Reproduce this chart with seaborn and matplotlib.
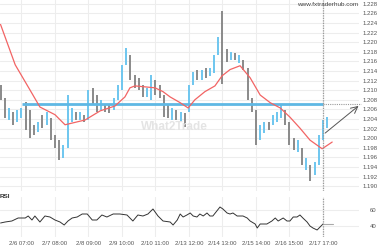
import numpy as np
import pandas as pd
import matplotlib
matplotlib.use("Agg")
import matplotlib.pyplot as plt
import seaborn as sns

# ---------------- data ----------------
bar_high = [1.2111, 1.2084, 1.2063, 1.2055, 1.2059, 1.2063, 1.2076, 1.2059, 1.2028, 1.2034,
            1.2049, 1.2055, 1.2042, 1.2007, 1.1996, 1.1986, 1.2090, 1.2063, 1.2055, 1.2055,
            1.2049, 1.2101, 1.2105, 1.2090, 1.2080, 1.2070, 1.2070, 1.2084, 1.2111, 1.2153,
            1.2189, 1.2174, 1.2132, 1.2126, 1.2111, 1.2105, 1.2132, 1.2122, 1.2111, 1.2090,
            1.2070, 1.2063, 1.2059, 1.2055, 1.2053, 1.2111, 1.2139, 1.2143, 1.2143, 1.2147,
            1.2147, 1.2174, 1.2210, 1.2266, 1.2185, 1.2180, 1.2178, 1.2174, 1.2162, 1.2147,
            1.2084, 1.2059, 1.2028, 1.2034, 1.2034, 1.2049, 1.2055, 1.2070, 1.2059, 1.2034,
            1.2001, 1.1996, 1.1980, 1.1959, 1.1944, 1.1950, 1.2007, 1.2038, 1.2044]
bar_low = [1.2080, 1.2042, 1.2038, 1.2028, 1.2034, 1.2042, 1.2017, 1.2001, 1.2007, 1.2013,
           1.2021, 1.2028, 1.1996, 1.1980, 1.1955, 1.1959, 1.1980, 1.2034, 1.2038, 1.2038,
           1.2034, 1.2038, 1.2070, 1.2055, 1.2059, 1.2055, 1.2053, 1.2059, 1.2080, 1.2101,
           1.2153, 1.2122, 1.2105, 1.2101, 1.2086, 1.2086, 1.2080, 1.2090, 1.2084, 1.2044,
           1.2042, 1.2038, 1.2038, 1.2034, 1.2024, 1.2055, 1.2111, 1.2122, 1.2122, 1.2126,
           1.2130, 1.2136, 1.2174, 1.2113, 1.2159, 1.2164, 1.2164, 1.2157, 1.2143, 1.2080,
           1.2055, 1.1986, 1.1996, 1.2011, 1.2017, 1.2028, 1.2034, 1.2042, 1.2028, 1.1986,
           1.1975, 1.1971, 1.1944, 1.1934, 1.1911, 1.1923, 1.1944, 1.1996, 1.2021]
bar_up = [0, 0, 1, 0, 1, 1, 0, 0, 0, 1,
          0, 1, 0, 0, 0, 1, 1, 1, 0, 1,
          0, 1, 0, 0, 1, 0, 0, 1, 1, 1,
          1, 0, 0, 0, 0, 1, 1, 0, 0, 0,
          0, 1, 0, 1, 0, 1, 1, 0, 1, 0,
          1, 1, 1, 0, 0, 1, 0, 1, 0, 0,
          0, 0, 1, 1, 0, 1, 1, 1, 0, 0,
          0, 1, 0, 1, 0, 1, 1, 1, 1]

ma_pos = [0, 3.5, 7, 9.4, 13, 15.4, 20.2, 23.8, 27.3, 29.7, 30.9, 32.1, 34.5, 36.9, 38.8,
          40.5, 42.9, 44.8, 46.4, 48.8, 51.2, 52.9, 54.8, 57.2, 59.6, 62, 64.4, 66.8, 69.1,
          71.5, 73.9, 76.8, 79.2]
ma_val = [1.2237, 1.2153, 1.2101, 1.2065, 1.2049, 1.2028, 1.2038, 1.2057, 1.2067, 1.2086,
          1.2105, 1.2109, 1.2107, 1.2105, 1.2097, 1.2086, 1.2074, 1.2063, 1.2080, 1.2097,
          1.2109, 1.2130, 1.2143, 1.2151, 1.2126, 1.2090, 1.2074, 1.2063, 1.2044, 1.2021,
          1.1996, 1.1978, 1.1992]

rsi_pos = [0, 1.1, 2.7, 4.2, 5.9, 6.6, 7.5, 8.2, 9.4, 10.6, 11.8, 13, 14.2, 15.2, 16.1,
           17.1, 18.3, 19.5, 20.7, 21.9, 23, 24.2, 25.4, 26.9, 28.5, 30.2, 31.6, 32.8, 34,
           35.2, 36.4, 37.6, 38.8, 40.5, 41.2, 42.2, 42.9, 43.6, 44.5, 45.3, 46, 46.9, 47.6,
           48.4, 49.3, 50, 50.7, 52.4, 53.1, 54.1, 54.8, 55.5, 56.5, 57.9, 58.9, 59.6, 60.8,
           61.3, 62, 63.6, 64.8, 65.6, 66.3, 67.5, 68.4, 69.1, 69.9, 70.8, 71.5, 72.2, 73.2,
           73.9, 74.6, 75.6, 76.3, 77]
rsi_val = [43.75, 45, 46.25, 50, 50, 52.5, 47.5, 52.5, 45, 52.5, 51.25, 47.5, 45, 41.25, 46.25,
           50, 51.25, 55, 55, 47.5, 47.5, 53.75, 51.25, 55, 55, 53.75, 46.25, 53.75, 52.5,
           55, 61.25, 52.5, 46.25, 45, 41.25, 47.5, 55, 51.25, 53.75, 56.25, 52.5, 51.25, 55,
           52.5, 56.25, 52.5, 52.5, 63.75, 61.25, 56.25, 55, 56.25, 52.5, 52.5, 50, 46.25, 42.5,
           37.5, 42.5, 42.5, 46.25, 50, 46.25, 50, 46.25, 46.25, 51.25, 51.25, 53.75, 50, 45,
           40, 37.5, 35, 38.75, 42.5]

level = 1.2072
level_start = 5.1
now_pos = 77
arrow_from = (77, 1.2007)
arrow_to = (86.0, 1.2071)

tick_pos = [5, 13, 21, 29, 37, 45, 53, 61, 69, 77]
tick_labels = ["2/6 07:00", "2/7 08:00", "2/8 09:00", "2/9 10:00", "2/10 11:00",
               "2/13 12:00", "2/14 13:00", "2/15 14:00", "2/16 15:00", "2/17 17:00"]
price_ticks = [1.190, 1.192, 1.194, 1.196, 1.198, 1.200, 1.202, 1.204, 1.206, 1.208,
               1.210, 1.212, 1.214, 1.216, 1.218, 1.220, 1.222, 1.224, 1.226, 1.228]
rsi_ticks = [40, 60]

# ---------------- plot ----------------
sns.set_theme(style="white")
plt.rcParams['font.family'] = ['Liberation Sans', 'DejaVu Sans']

BLUE = "#6ec6ef"
GREY = "#8a8a8a"
RED = "#f26464"
GRID = "#ededed"
TXT = "#555555"

W = 359 / 380
fig = plt.figure(figsize=(3.8, 2.5), dpi=100)
ax = fig.add_axes([0, 1 - 191 / 250, W, 191 / 250])
ax2 = fig.add_axes([0, 13 / 250, W, 40 / 250])

xmin, xmax = -0.13, -0.13 + 359 / 4.1875

bars = pd.DataFrame({"pos": np.arange(len(bar_high)), "high": bar_high,
                     "low": bar_low, "up": bar_up})

for a in (ax, ax2):
    a.set_xlim(xmin, xmax)
    for s in a.spines.values():
        s.set_visible(False)
    a.set_xticks(tick_pos)
    a.grid(True, axis="x", color=GRID, lw=0.8)
    a.set_axisbelow(True)

ax.set_ylim(1.1890, 1.2288)
ax.yaxis.tick_right()
ax.set_yticks(price_ticks)
ax.set_yticklabels([f"{t:.3f}" for t in price_ticks])
ax.tick_params(axis="y", length=0, pad=2.5, labelsize=4.3, labelcolor=TXT)
ax.tick_params(axis="x", length=0, labelbottom=False)
ax.grid(True, axis="y", color=GRID, lw=0.8)

# bars
for up, col in ((0, GREY), (1, BLUE)):
    sub = bars[bars.up == up]
    ax.vlines(sub.pos, sub.low, sub.high, color=col, lw=1.4, zorder=3)

# horizontal level
ax.hlines(level, level_start, now_pos, color="#5fb8e4", lw=2.0, zorder=4)
ax.plot([now_pos, arrow_to[0]], [level, level], color="#9a9a9a", lw=0.8,
        ls=(0, (1, 1)), clip_on=False, zorder=4)

# moving average
sns.lineplot(x=ma_pos, y=ma_val, ax=ax, color=RED, lw=0.9, zorder=5)

# now line
for a in (ax, ax2):
    a.axvline(now_pos, color="#9a9a9a", lw=0.9, ls=(0, (1, 1)), zorder=6)

ax.annotate("", xy=arrow_to, xytext=arrow_from,
            arrowprops=dict(arrowstyle="->", color="#555555", lw=0.7),
            annotation_clip=False, zorder=7)

fig.text(358 / 380, 1 - 2 / 250, "www.fxtraderhub.com",
         ha="right", va="top", fontsize=4.6, color="#444444")
fig.text(174 / 380, 1 - 127 / 250, "What2Trade", ha="center",
         va="center", fontsize=8.5, fontweight="bold", color="#e4e4e4", zorder=1)

# RSI
ax2.set_ylim(26.25, 76.25)
ax2.yaxis.tick_right()
ax2.set_yticks(rsi_ticks)
ax2.tick_params(axis="y", length=0, pad=8, labelsize=4.3, labelcolor=TXT)
ax2.grid(True, axis="y", color=GRID, lw=0.8)
sns.lineplot(x=rsi_pos, y=rsi_val, ax=ax2, color="#333333", lw=0.7, zorder=5)
ax2.plot([rsi_pos[-1], 79.4], [rsi_val[-1], rsi_val[-1]], color="#aaaaaa", lw=0.8)
ax2.set_xticklabels(tick_labels)
ax2.tick_params(axis="x", length=0, pad=3, labelsize=4.3, labelcolor=TXT)
ax2.text(0.0, 1.0, "RSI", transform=ax2.transAxes, fontsize=4.6,
         fontweight="bold", color="#333333", va="center", ha="left")
for a in (ax, ax2):
    a.set_xlabel("")
    a.set_ylabel("")

fig.savefig("out.png", dpi=100)
